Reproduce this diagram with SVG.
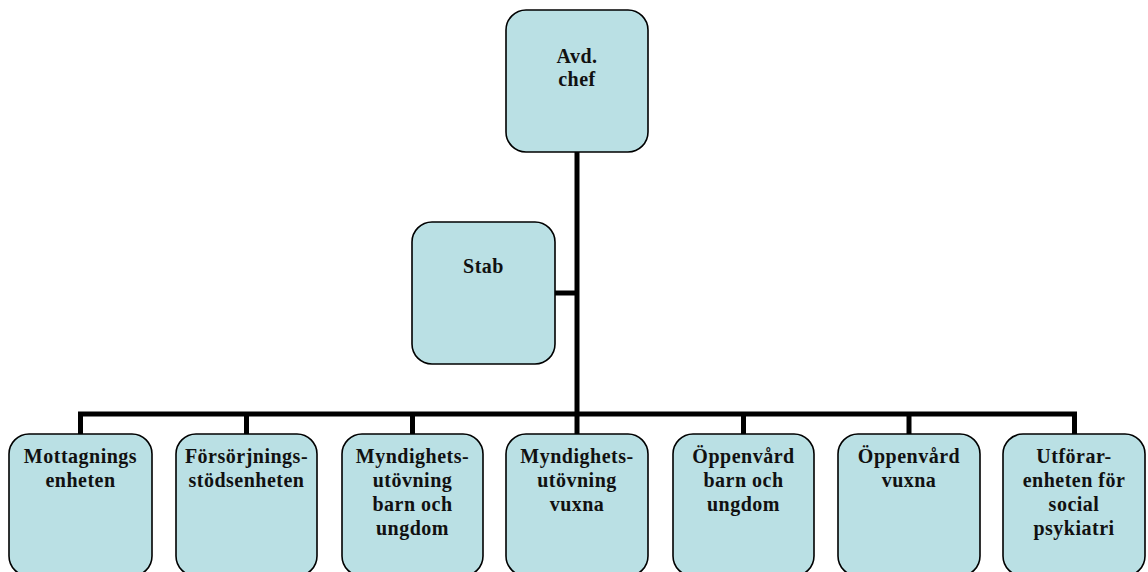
<svg xmlns="http://www.w3.org/2000/svg" width="1148" height="572" viewBox="0 0 1148 572">
<style>
.box{fill:#BAE0E4;stroke:#000;stroke-width:1.6}
.lbl{font-family:"Liberation Serif","Times New Roman","DejaVu Serif",serif;font-weight:bold;font-size:20px;letter-spacing:0.5px;fill:#111;text-anchor:middle}
.conn{stroke:#000;stroke-width:5;fill:none}
</style>
<rect width="1148" height="572" fill="#fff"/>
<g id="connectors">
<line class="conn" x1="577" y1="152" x2="577" y2="416"/>
<line class="conn" x1="555" y1="293" x2="577" y2="293"/>
<polyline class="conn" points="80.5,434 80.5,414 1074.5,414 1074.5,434"/>
<line class="conn" x1="246.5" y1="414" x2="246.5" y2="434"/>
<line class="conn" x1="412.5" y1="414" x2="412.5" y2="434"/>
<line class="conn" x1="577" y1="414" x2="577" y2="434"/>
<line class="conn" x1="743.5" y1="414" x2="743.5" y2="434"/>
<line class="conn" x1="909" y1="414" x2="909" y2="434"/>
</g>
<g id="avd-chef">
<rect class="box" x="506" y="10" width="142" height="142" rx="20"/>
<text class="lbl" x="577" y="63">Avd.</text>
<text class="lbl" x="577" y="86">chef</text>
</g>
<g id="stab">
<rect class="box" x="412" y="222" width="143" height="142" rx="20"/>
<text class="lbl" x="483.5" y="273">Stab</text>
</g>
<g id="mottagning">
<rect class="box" x="9" y="434" width="143" height="142" rx="20"/>
<text class="lbl" x="80.5" y="463">Mottagnings</text>
<text class="lbl" x="80.5" y="487">enheten</text>
</g>
<g id="forsorjning">
<rect class="box" x="176" y="434" width="141" height="142" rx="20"/>
<text class="lbl" x="246.5" y="463">Försörjnings-</text>
<text class="lbl" x="246.5" y="487">stödsenheten</text>
</g>
<g id="myndighet-barn">
<rect class="box" x="342" y="434" width="141" height="142" rx="20"/>
<text class="lbl" x="412.5" y="463">Myndighets-</text>
<text class="lbl" x="412.5" y="487">utövning</text>
<text class="lbl" x="412.5" y="511">barn och</text>
<text class="lbl" x="412.5" y="535">ungdom</text>
</g>
<g id="myndighet-vuxna">
<rect class="box" x="506" y="434" width="142" height="142" rx="20"/>
<text class="lbl" x="577" y="463">Myndighets-</text>
<text class="lbl" x="577" y="487">utövning</text>
<text class="lbl" x="577" y="511">vuxna</text>
</g>
<g id="oppenvard-barn">
<rect class="box" x="673" y="434" width="141" height="142" rx="20"/>
<text class="lbl" x="743.5" y="463">Öppenvård</text>
<text class="lbl" x="743.5" y="487">barn och</text>
<text class="lbl" x="743.5" y="511">ungdom</text>
</g>
<g id="oppenvard-vuxna">
<rect class="box" x="838" y="434" width="142" height="142" rx="20"/>
<text class="lbl" x="909" y="463">Öppenvård</text>
<text class="lbl" x="909" y="487">vuxna</text>
</g>
<g id="utforar">
<rect class="box" x="1003" y="434" width="142" height="142" rx="20"/>
<text class="lbl" x="1074" y="463">Utförar-</text>
<text class="lbl" x="1074" y="487">enheten för</text>
<text class="lbl" x="1074" y="511">social</text>
<text class="lbl" x="1074" y="535">psykiatri</text>
</g>
</svg>
